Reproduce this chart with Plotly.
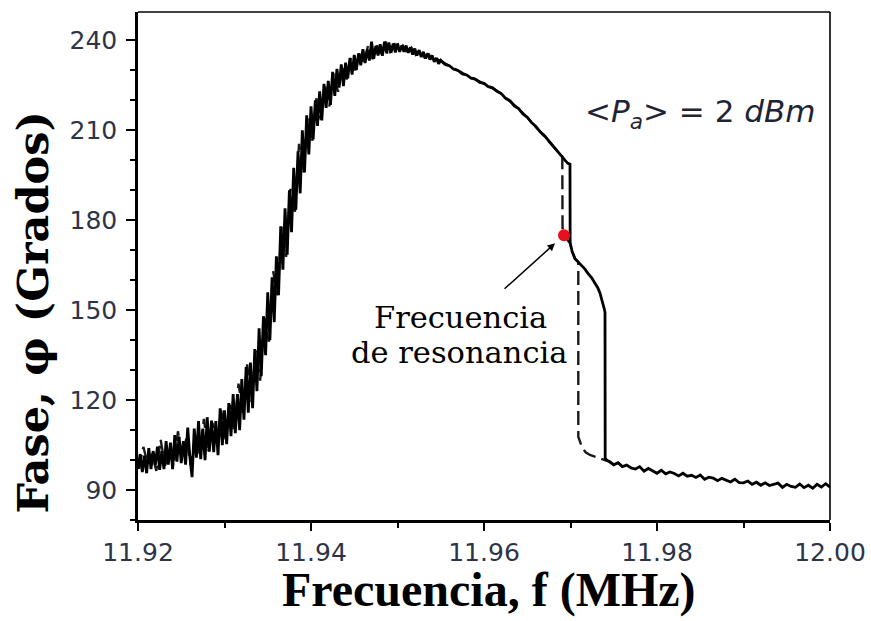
import plotly.graph_objects as go

# ---------------- data ----------------
# up-sweep (solid) : noisy rising part
f_up_noisy = [11.92000, 11.92025, 11.92050, 11.92075, 11.92100, 11.92125, 11.92150, 11.92175, 11.92200, 11.92225,
              11.92250, 11.92275, 11.92300, 11.92325, 11.92350, 11.92375, 11.92400, 11.92425, 11.92450, 11.92475,
              11.92500, 11.92525, 11.92550, 11.92575, 11.92600, 11.92625, 11.92650, 11.92675, 11.92700, 11.92725,
              11.92750, 11.92775, 11.92800, 11.92825, 11.92850, 11.92875, 11.92900, 11.92925, 11.92950, 11.92975,
              11.93000, 11.93025, 11.93050, 11.93075, 11.93100, 11.93125, 11.93150, 11.93175, 11.93200, 11.93225,
              11.93250, 11.93275, 11.93300, 11.93325, 11.93350, 11.93375, 11.93400, 11.93425, 11.93450, 11.93475,
              11.93500, 11.93525, 11.93550, 11.93575, 11.93600, 11.93625, 11.93650, 11.93675, 11.93700, 11.93725,
              11.93750, 11.93775, 11.93800, 11.93825, 11.93850, 11.93875, 11.93900, 11.93925, 11.93950, 11.93975,
              11.94000, 11.94025, 11.94050, 11.94075, 11.94100, 11.94125, 11.94150, 11.94175, 11.94200, 11.94225,
              11.94250, 11.94275, 11.94300, 11.94325, 11.94350, 11.94375, 11.94400, 11.94425, 11.94450, 11.94475,
              11.94500, 11.94525, 11.94550, 11.94575, 11.94600, 11.94625, 11.94650, 11.94675, 11.94700, 11.94725,
              11.94750, 11.94775, 11.94800, 11.94825, 11.94850, 11.94875, 11.94900, 11.94925, 11.94950, 11.94975,
              11.95000, 11.95025, 11.95050, 11.95075, 11.95100, 11.95125, 11.95150, 11.95175, 11.95200, 11.95225,
              11.95250, 11.95275, 11.95300, 11.95325, 11.95350, 11.95375, 11.95400, 11.95425, 11.95450, 11.95475,
              11.95500]
phase_up_noisy = [97, 102, 96, 101.5, 95.6, 104, 97, 103, 98.3, 104.5,
                  96.7, 103, 97, 106.3, 98.5, 105.8, 97, 108.3, 99.5, 107.8,
                  99, 106.3, 98.5, 110.8, 101, 94.3, 110.5, 100.8, 113, 100.3,
                  110.5, 100, 114.3, 102.8, 113.2, 102.6, 113, 101.6, 117.3, 105,
                  116.6, 105.3, 119, 108, 122, 109, 122, 110, 127, 113.5,
                  131, 115.8, 132.5, 117.3, 137, 123, 144, 128, 148, 135,
                  156, 140, 161, 146, 168, 155, 178, 163.5, 184, 168.5,
                  190, 176, 197.5, 183.5, 203, 189, 210, 196, 215, 202,
                  218, 207, 220, 211.5, 223, 213.3, 225.5, 217.5, 226.5, 218.5,
                  229.5, 221.5, 230.5, 224.3, 232, 224.8, 232.6, 227.4, 234.1, 228.6,
                  235.2, 230.2, 235.7, 231.7, 237.1, 232.5, 236.9, 233.3, 239.6, 233.9,
                  238.2, 235, 238.7, 234.9, 239.6, 235.7, 239.3, 235.9, 239, 236,
                  239, 236.2, 238.3, 236.2, 238.3, 235.9, 237.7, 235.3, 237.3, 235,
                  236.8, 234.5, 236.2, 234, 235.7, 233.6, 235, 232.9, 234.2, 232.2,
                  233.4]

# up-sweep : smooth decreasing part before the jump
f_up_smooth = [11.9555, 11.9560, 11.9565, 11.9570, 11.9575, 11.9580, 11.9585, 11.9590, 11.9595, 11.9600,
               11.9605, 11.9610, 11.9615, 11.9620, 11.9625, 11.9630, 11.9635, 11.9640, 11.9645, 11.9650,
               11.9655, 11.9660, 11.9665, 11.9670, 11.9675, 11.9680, 11.9685, 11.9690, 11.9694, 11.9697,
               11.96994]
phase_up_smooth = [232.0, 231.6, 230.4, 230.0, 228.8, 228.5, 227.4, 227.1, 226.0, 225.7,
                   224.6, 224.2, 223.0, 222.3, 220.7, 219.9, 218.2, 217.3, 215.5, 214.4,
                   212.6, 211.3, 209.5, 208.2, 206.4, 204.9, 202.9, 201.3, 199.9, 199.0,
                   198.7]

# up-sweep : lower branch and second jump
f_up_branch = [11.96996, 11.9702, 11.97052, 11.9709, 11.9713, 11.97165, 11.97202, 11.97245, 11.97283, 11.97315,
               11.97341, 11.97362, 11.97376, 11.9739, 11.97399, 11.97401, 11.9742]
phase_up_branch = [172.5, 169.5, 167.2, 166.0, 165.0, 163.8, 162.3, 160.8, 159.0, 157.5,
                   155.7, 153.8, 152.3, 150.5, 149.3, 100.7, 99.9]

# tail (both sweeps)
f_tail = [11.9745, 11.9750, 11.9755, 11.9760, 11.9765, 11.9770, 11.9775, 11.9780, 11.9785, 11.9790,
          11.9795, 11.9800, 11.9805, 11.9810, 11.9815, 11.9820, 11.9825, 11.9830, 11.9835, 11.9840,
          11.9845, 11.9850, 11.9855, 11.9860, 11.9865, 11.9870, 11.9875, 11.9880, 11.9885, 11.9890,
          11.9895, 11.9900, 11.9905, 11.9910, 11.9915, 11.9920, 11.9925, 11.9930, 11.9935, 11.9940,
          11.9945, 11.9950, 11.9955, 11.9960, 11.9965, 11.9970, 11.9975, 11.9980, 11.9985, 11.9990,
          11.9995, 12.0000]
phase_tail = [99.5, 98.4, 99.1, 97.8, 98.3, 97.4, 97.0, 97.8, 96.3, 97.2,
              96.4, 95.6, 96.6, 95.4, 96.0, 95.5, 94.7, 95.6, 94.6, 94.9,
              94.2, 95.0, 93.6, 94.3, 94.0, 93.1, 93.9, 93.3, 92.7, 93.6,
              92.5, 92.4, 93.0, 91.9, 92.6, 91.6, 92.4, 91.5, 91.8, 92.3,
              90.9, 91.9, 91.2, 90.9, 92.0, 90.8, 91.6, 90.6, 91.9, 91.0,
              92.1, 91.0]

# down-sweep (dashed) : noisy part (overlaps the up-sweep)
f_down_noisy = [11.92012, 11.92062, 11.92112, 11.92162, 11.92212, 11.92262, 11.92312, 11.92362, 11.92412, 11.92462,
                11.92512, 11.92562, 11.92612, 11.92662, 11.92712, 11.92762, 11.92812, 11.92862, 11.92912, 11.92962,
                11.93012, 11.93062, 11.93112, 11.93162, 11.93212, 11.93262, 11.93312, 11.93362, 11.93412, 11.93462,
                11.93512, 11.93562, 11.93612, 11.93662, 11.93712, 11.93762, 11.93812, 11.93862, 11.93912, 11.93962,
                11.94012, 11.94062, 11.94112, 11.94162, 11.94212, 11.94262, 11.94312, 11.94362, 11.94412, 11.94462,
                11.94512, 11.94562, 11.94612, 11.94662, 11.94712, 11.94762, 11.94812, 11.94862, 11.94912, 11.94962,
                11.95012, 11.95062, 11.95112, 11.95162, 11.95212, 11.95262, 11.95312, 11.95362, 11.95412, 11.95462]
phase_down_noisy = [97.1, 104.4, 98.7, 102.1, 96.4, 106.8, 98.1, 102.6, 98.1, 109.6,
                    101.1, 107.6, 98.1, 107.6, 102.1, 113.7, 102.5, 112.4, 105.3, 116.6,
                    106.9, 118.5, 109.5, 125.5, 115.7, 131.9, 119.4, 136.5, 126.5, 147.5,
                    139.5, 163, 155, 177.8, 167.8, 190.5, 182, 205.5, 195.5, 214,
                    206, 220.7, 213.6, 225, 218, 229, 222.9, 231.4, 227, 234.4,
                    230, 235.5, 232.3, 238.6, 233.8, 238.3, 235.3, 239.6, 235.8, 239,
                    236.5, 238.3, 236, 237.6, 235.2, 236.5, 234.3, 235.3, 233.1, 233.7]

# down-sweep (dashed) : smooth part and hysteresis jumps
f_down = [11.9560, 11.9570, 11.9580, 11.9590, 11.9600, 11.9610, 11.9620, 11.9630, 11.9640, 11.9650,
          11.9655, 11.9660, 11.9665, 11.9670, 11.9675, 11.9680, 11.9685, 11.96905, 11.96908, 11.96925,
          11.9696, 11.96996, 11.9702, 11.97052, 11.9709, 11.9709, 11.97133, 11.97175, 11.97225, 11.9731,
          11.9740, 11.9745, 11.9750, 11.9755, 11.9760]
phase_down = [231.5, 229.9, 228.4, 227.0, 225.6, 224.1, 222.2, 219.8, 217.2, 214.3,
              212.7, 211.1, 209.6, 208.1, 206.5, 204.8, 203.0, 201.3, 177.5, 175.0,
              173.6, 172.3, 169.5, 167.2, 166.0, 107.8, 104.3, 102.6, 101.7, 100.9,
              100.2, 99.5, 98.4, 99.1, 97.8]

# resonance point
f_res = [11.96925]
phase_res = [175.0]

x_ticks = [11.92, 11.94, 11.96, 11.98, 12.00]
x_ticklabels = ["11.92", "11.94", "11.96", "11.98", "12.00"]
y_ticks = [90, 120, 150, 180, 210, 240]
y_ticklabels = ["90", "120", "150", "180", "210", "240"]

# ---------------- figure ----------------
f_up = f_up_noisy + f_up_smooth + f_up_branch + f_tail
phase_up = phase_up_noisy + phase_up_smooth + phase_up_branch + phase_tail

fig = go.Figure()
fig.add_trace(go.Scatter(x=f_down_noisy + f_down, y=phase_down_noisy + phase_down, mode="lines",
                         line=dict(color="#1a1a1a", width=2.4, dash="14px,6px"),
                         hoverinfo="skip", showlegend=False))
fig.add_trace(go.Scatter(x=f_up, y=phase_up, mode="lines",
                         line=dict(color="#000000", width=2.8),
                         hoverinfo="skip", showlegend=False))
fig.add_trace(go.Scatter(x=f_res, y=phase_res, mode="markers",
                         marker=dict(color="#e8101e", size=12),
                         hoverinfo="skip", showlegend=False))

tick_font = dict(family="DejaVu Sans", size=25, color="#2d3448")

fig.update_xaxes(range=[11.92, 12.00], tickmode="array", tickvals=x_ticks, ticktext=x_ticklabels,
                 ticks="outside", ticklen=8, tickwidth=2, tickcolor="black",
                 minor=dict(dtick=0.01, tick0=11.92, ticks="outside", ticklen=5, tickwidth=2, tickcolor="black"),
                 showline=True, linewidth=2.5, linecolor="black", showgrid=False, zeroline=False,
                 tickfont=tick_font, automargin=False, ticklabelstandoff=0)
fig.update_yaxes(range=[80, 249.5], tickmode="array", tickvals=y_ticks, ticktext=y_ticklabels,
                 ticks="outside", ticklen=9, tickwidth=2, tickcolor="black",
                 minor=dict(dtick=10, tick0=80, ticks="outside", ticklen=5, tickwidth=2, tickcolor="black"),
                 showline=True, linewidth=2.5, linecolor="black", showgrid=False, zeroline=False,
                 tickfont=tick_font, ticklabelstandoff=4, automargin=False)

fig.update_layout(
    width=871, height=621,
    margin=dict(l=138, r=41, t=12, b=101),
    paper_bgcolor="white", plot_bgcolor="white",
    shapes=[
        dict(type="line", xref="paper", yref="paper", x0=0, x1=1, y0=1, y1=1,
             line=dict(color="black", width=1.6)),
        dict(type="line", xref="paper", yref="paper", x0=1, x1=1, y0=0, y1=1,
             line=dict(color="black", width=1.6)),
    ],
    annotations=[
        dict(xref="paper", yref="paper", x=0.507, y=-0.137, text="<b>Frecuencia, f (MHz)</b>",
             showarrow=False, xanchor="center", yanchor="middle",
             font=dict(family="Liberation Serif", size=48, color="black")),
        dict(xref="paper", yref="paper", x=-0.152, y=0.408, text="<b>Fase, φ (Grados)</b>",
             showarrow=False, xanchor="center", yanchor="middle", textangle=-90,
             font=dict(family="DejaVu Serif", size=43, color="black")),
        dict(x=11.9573, y=147.6, text="Frecuencia", showarrow=False,
             xanchor="center", yanchor="middle",
             font=dict(family="DejaVu Serif", size=30.5, color="black")),
        dict(x=11.9571, y=136.0, text="de resonancia", showarrow=False,
             xanchor="center", yanchor="middle",
             font=dict(family="DejaVu Serif", size=30.5, color="black")),
        dict(x=11.96821, y=172.3, ax=11.9622, ay=156.7, axref="x", ayref="y", text="",
             showarrow=True, arrowhead=2, arrowsize=1, arrowwidth=1.5, arrowcolor="black",
             standoff=0, startstandoff=0),
        dict(x=11.97145, y=215.7, text="&lt;<i>P</i><sub><i>a</i></sub>&gt; = 2 <i>dBm</i>",
             showarrow=False, xanchor="left", yanchor="middle",
             font=dict(family="DejaVu Sans", size=31, color="#1e2433")),
    ],
)

fig.write_html("out.html")
